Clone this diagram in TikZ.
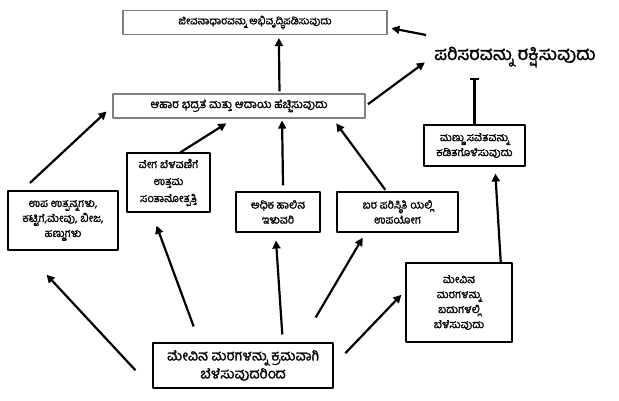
\documentclass[tikz,border=0pt]{standalone}
\usepackage{fontspec}
\newfontfamily\kn[Script=Kannada,AutoFakeBold=1.4]{Hind Mysuru}
\usetikzlibrary{arrows.meta,calc}
\tikzset{
  box/.style={draw,line width=1.1pt,align=center,inner sep=2pt,
    font=\kn\bfseries\fontsize{11}{15}\selectfont},
  arr/.style={line width=2.2pt,-{Triangle[length=8pt,width=8pt]}},
}
\begin{document}
\begin{tikzpicture}[x=1pt,y=-1pt,line join=round]
  \useasboundingbox (0,0) rectangle (619,401);
  \node[box,draw=gray,font=\kn\bfseries\fontsize{10.4}{12}\selectfont,minimum width=264,minimum height=24] (live) at (255,22.5) {ಜೀವನಾಧಾರವನ್ನು ಅಭಿವೃದ್ಧಿಪಡಿಸುವುದು};
  \node[font=\kn\bfseries\fontsize{18}{20}\selectfont,inner sep=2pt] (env) at (515,57) {ಪರಿಸರವನ್ನು ರಕ್ಷಿಸುವುದು};
  \node[box,draw=gray,font=\kn\bfseries\fontsize{11.5}{13}\selectfont,minimum width=252,minimum height=24] (food) at (239,106) {ಆಹಾರ ಭದ್ರತೆ ಮತ್ತು ಆದಾಯ ಹೆಚ್ಚಿಸುವುದು};
  \node[box,minimum width=110,minimum height=59] (prod) at (63,220.5) {ಉಪ ಉತ್ಪನ್ನಗಳು,\\ಕಟ್ಟಿಗೆ,ಮೇವು, ಬೀಜ,\\ಹಣ್ಣುಗಳು};
  \node[box,font=\kn\bfseries\fontsize{11}{17}\selectfont,minimum width=83,minimum height=59] (grow) at (168.5,182.5) {ವೇಗ ಬೆಳವಣಿಗೆ\\ಉತ್ತಮ\\ಸಂತಾನೋತ್ಪತ್ತಿ};
  \node[box,minimum width=84,minimum height=40] (milk) at (278,212) {ಅಧಿಕ ಹಾಲಿನ\\ಇಳುವರಿ};
  \node[box,minimum width=121,minimum height=40] (drought) at (397.5,212) {ಬರ ಪರಿಸ್ಥಿತಿ ಯಲ್ಲಿ\\ಉಪಯೋಗ};
  \node[box,minimum width=101,minimum height=41] (soil) at (474.5,145.5) {ಮಣ್ಣು ಸವೆತವನ್ನು\\ಕಡಿತಗೊಳಿಸುವುದು};
  \node[box,minimum width=106,minimum height=79] (bund) at (459,302.5) {ಮೇವಿನ\\ಮರಗಳನ್ನು\\ಬದುಗಳಲ್ಲಿ\\ಬೆಳೆಸುವುದು};
  \node[box,font=\kn\bfseries\fontsize{14}{18}\selectfont,minimum width=180,minimum height=45] (base) at (243,365.5) {ಮೇವಿನ ಮರಗಳನ್ನು ಕ್ರಮವಾಗಿ\\ಬೆಳೆಸುವುದರಿಂದ};
  % upper level
  \draw[arr,shorten >=4pt] ($(env.west)+(-6,-22)$) -- ($(live.north east)!.7!(live.south east)$);
  \draw[arr,shorten <=3pt,shorten >=9pt] (food.east) -- (env.west);
  \draw[arr,shorten <=2pt,shorten >=3pt] ($(food.north west)!.66!(food.north east)$) -- ($(live.south west)!.59!(live.south east)$);
  \draw[line width=2.2pt,-{Bar[width=9pt,line width=2pt]},shorten >=9pt] (soil.north) -- (soil.north |- env.south);
  % middle level
  \draw[arr,shorten <=11pt,shorten >=8pt] ($(prod.north west)!.13!(prod.north east)$) -- (food.west);
  \draw[arr,shorten >=9pt] ($(grow.north west)!.64!(grow.north east)$) -- ($(food.south west)!.48!(food.south east)$);
  \draw[arr,shorten <=6pt,shorten >=2pt] ($(milk.north west)!.56!(milk.north east)$) -- ($(food.south west)!.67!(food.south east)$);
  \draw[arr,shorten <=2pt,shorten >=6pt] ($(drought.north west)!.41!(drought.north east)$) -- ($(food.south west)!.87!(food.south east)$);
  \draw[arr,shorten >=7pt] ($(bund.north west)!.89!(bund.north east)$) -- ($(soil.south west)!.7!(soil.south east)$);
  % from the base
  \draw[arr,shorten <=25pt,shorten >=33pt] (base.south west) -- ($(prod.south west)!.15!(prod.south east)$);
  \draw[arr,shorten <=17pt,shorten >=14pt] ($(base.north west)!.26!(base.north east)$) -- ($(grow.south west)!.3!(grow.south east)$);
  \draw[arr,shorten <=8pt,shorten >=8pt] ($(base.north west)!.72!(base.north east)$) -- ($(milk.south west)!.47!(milk.south east)$);
  \draw[arr,shorten <=29pt,shorten >=6pt] ($(base.north west)!.82!(base.north east)$) -- ($(drought.south west)!.24!(drought.south east)$);
  \draw[arr,shorten <=17pt,shorten >=6pt] (base.east) -- ($(bund.north west)!.35!(bund.south west)$);
\end{tikzpicture}
\end{document}
